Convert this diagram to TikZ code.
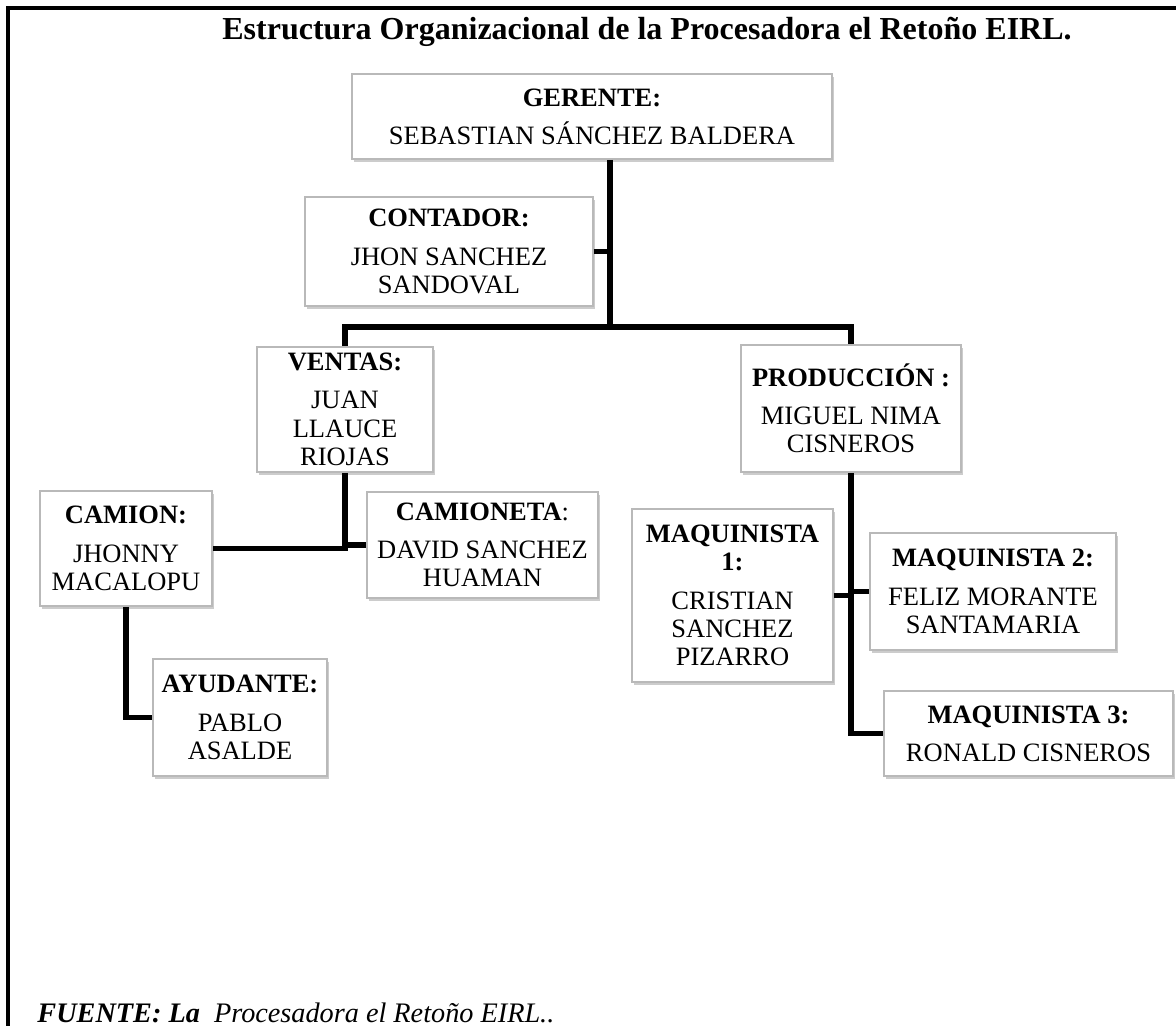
\documentclass[tikz,border=0pt]{standalone}
\usepackage{fontspec}
\setmainfont{Liberation Serif}
\usepackage{tikz}
\usetikzlibrary{shadows}

\begin{document}
\begin{tikzpicture}
	[%
	x=0.453pt, y=-0.453pt,%
	puesto/.style={rectangle,	draw=gray!55,	fill=white,	line width=0.8pt,	inner sep=0pt,	align=center,%
		drop shadow={shadow xshift=0.8pt, shadow yshift=-1.2pt, opacity=0.4, fill=gray},%
		font=\fontsize{12}{12.8}\selectfont},%
	tam/.style 2 args={minimum width=#1*0.453pt, minimum height=#2*0.453pt},%
	enlace/.style={line width=2.3pt, draw=black},%
	marco/.style={line width=1.4pt, draw=black},%
	]

	\newcommand\xger{610}
	\newcommand\ybar{327}

	\useasboundingbox (0,0) rectangle (1176,1026);

	% frame
	\draw [marco] (1176,8) -- (8,8) -- (8,1026);

	% title
	\node (titulo) at (647,40) [anchor=base, font=\fontsize{14.5}{17}\selectfont\bfseries]
		{Estructura Organizacional de la Procesadora el Retoño EIRL.};

	% nodes
	\foreach \n/\x/\y/\w/\h/\t in {%
			ger/592/116.5/480/85/{\textbf{GERENTE:}\\[4.5pt] SEBASTIAN SÁNCHEZ BALDERA},%
			con/449/251.5/288/109/{\textbf{CONTADOR:}\\[4.5pt] JHON SANCHEZ\\ SANDOVAL},%
			ven/345/409.5/176/125/{\textbf{VENTAS:}\\[4.5pt] JUAN\\ LLAUCE\\ RIOJAS},%
			pro/851/408.5/220/127/{\textbf{PRODUCCIÓN :}\\[4.5pt] MIGUEL NIMA\\ CISNEROS},%
			cam/126/548.5/172/115/{\textbf{CAMION:}\\[4.5pt] JHONNY\\ MACALOPU},%
			cta/482.5/545/231/106/{\textbf{CAMIONETA}:\\[4.5pt] DAVID SANCHEZ\\ HUAMAN},%
			ayu/240/717.5/174/117/{\textbf{AYUDANTE:}\\[4.5pt] PABLO\\ ASALDE},%
			mq1/732.5/595.5/201/173/{\textbf{MAQUINISTA}\\ \textbf{1:}\\[4.5pt] CRISTIAN\\ SANCHEZ\\ PIZARRO},%
			mq2/993/591.5/246/117/{\textbf{MAQUINISTA 2:}\\[4.5pt] FELIZ MORANTE\\ SANTAMARIA},%
			mq3/1028.5/733.5/289/85/{\textbf{MAQUINISTA 3:}\\[4.5pt] RONALD CISNEROS}%
			}
		\node (\n) at (\x,\y) [puesto, tam={\w}{\h}] {\t};

	\coordinate (bar) at (\xger,\ybar);

	% interconnections
	% gerente to areas
	\draw [enlace] (ger.south -| bar) -- (bar);
	\draw [enlace] (con.east) -- (con.east -| bar);
	\draw [enlace] (ven.north) |- (bar) -| (pro.north);

	% ventas
	\draw [enlace] (ven.south) |- (cam.east);
	\draw [enlace] (cta.west) -- (cta.west -| ven.south);
	\draw [enlace] (cam.south) |- (ayu.west);

	% produccion
	\draw [enlace] (pro.south) |- (mq3.west);
	\foreach \m/\a in {mq1/east, mq2/west}
		\draw [enlace] (\m.\a) -- (\m.\a -| pro.south);

	% source
	\node (fuente) at (37,1022) [anchor=base west, inner sep=0pt, font=\fontsize{12.8}{14}\selectfont\itshape]
		{\textbf{FUENTE: La}\ \ Procesadora el Retoño EIRL..};

\end{tikzpicture}
\end{document}
